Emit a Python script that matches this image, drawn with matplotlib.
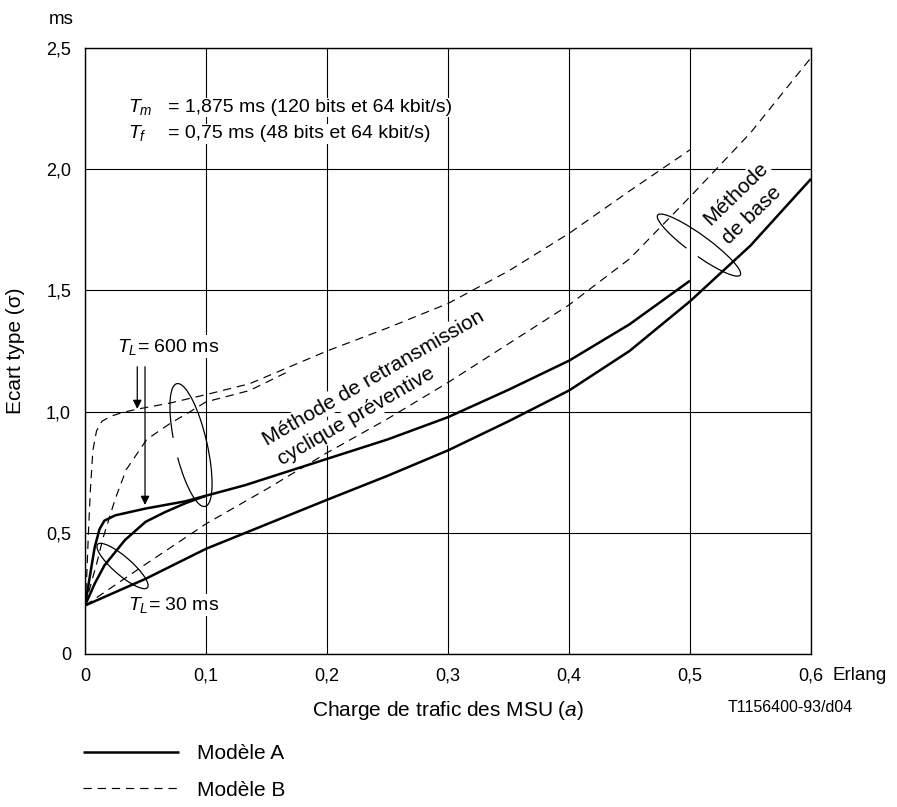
import matplotlib
matplotlib.use("Agg")
import matplotlib.pyplot as plt
from matplotlib.patches import Arc
from matplotlib.transforms import ScaledTranslation

plt.rcParams['font.family'] = ['Liberation Sans', 'DejaVu Sans']
plt.rcParams['mathtext.fontset'] = 'custom'
plt.rcParams['mathtext.rm'] = 'Liberation Sans'
plt.rcParams['mathtext.it'] = 'Liberation Sans:italic'

# ---------------- data ----------------
# Model A (solid), basic method
a_base_x = [0, 0.05, 0.1, 0.15, 0.2, 0.25, 0.3, 0.35, 0.4, 0.45, 0.5, 0.55, 0.6]
a_base_y = [0.2, 0.31, 0.434, 0.535, 0.636, 0.735, 0.84, 0.96, 1.087, 1.25, 1.455, 1.685, 1.96]
# Model A (solid), preventive cyclic retransmission, TL = 600 ms
a_r600_x = [0, 0.004, 0.008, 0.012, 0.016, 0.025, 0.05, 0.083, 0.1, 0.132, 0.2, 0.25,
            0.3, 0.35, 0.4, 0.45, 0.5]
a_r600_y = [0.2, 0.32, 0.44, 0.515, 0.55, 0.572, 0.60, 0.63, 0.653, 0.696, 0.805, 0.885,
            0.977, 1.09, 1.21, 1.36, 1.54]
# Model A (solid), preventive cyclic retransmission, TL = 30 ms
a_r30_x = [0, 0.008, 0.016, 0.033, 0.05, 0.066, 0.083, 0.1]
a_r30_y = [0.2, 0.29, 0.365, 0.47, 0.545, 0.585, 0.622, 0.653]

# Model B (dashed), basic method
b_base_x = [0, 0.05, 0.1, 0.15, 0.2, 0.25, 0.3, 0.35, 0.4, 0.45, 0.5, 0.55, 0.6]
b_base_y = [0.2, 0.37, 0.537, 0.68, 0.83, 0.97, 1.12, 1.28, 1.44, 1.63, 1.886, 2.15, 2.46]
# Model B (dashed), retransmission, TL = 600 ms
b_r600_x = [0, 0.0015, 0.003, 0.0045, 0.0065, 0.0095, 0.014, 0.021, 0.03, 0.043, 0.07,
            0.1, 0.136, 0.2, 0.25, 0.3, 0.35, 0.4, 0.45, 0.5]
b_r600_y = [0.2, 0.33, 0.52, 0.68, 0.84, 0.92, 0.96, 0.98, 0.995, 1.01, 1.035,
            1.07, 1.115, 1.25, 1.345, 1.446, 1.58, 1.735, 1.91, 2.08]
# Model B (dashed), retransmission, TL = 30 ms
b_r30_x = [0, 0.005, 0.01, 0.015, 0.025, 0.034, 0.051, 0.07, 0.087, 0.1, 0.136, 0.17]
b_r30_y = [0.2, 0.29, 0.38, 0.48, 0.64, 0.76, 0.885, 0.95, 1.0, 1.04, 1.087, 1.17]

x_ticks = [0, 0.1, 0.2, 0.3, 0.4, 0.5, 0.6]
x_tick_labels = ['0', '0,1', '0,2', '0,3', '0,4', '0,5', '0,6']
y_ticks = [0, 0.5, 1.0, 1.5, 2.0, 2.5]
y_tick_labels = ['0', '0,5', '1,0', '1,5', '2,0', '2,5']
legend_labels = ['Modèle A', 'Modèle B']

# ---------------- figure ----------------
fig = plt.figure(figsize=(8.97, 8.07), dpi=100)
ax = fig.add_axes([85/897, 1 - 654/807, 726/897, 606/807])
ax.set_xlim(0, 0.6)
ax.set_ylim(0, 2.5)
ax.set_xticks(x_ticks)
ax.set_xticklabels(x_tick_labels)
ax.set_yticks(y_ticks)
ax.set_yticklabels(y_tick_labels)
ax.tick_params(length=0, labelsize=13, colors='black')
ax.tick_params(axis='x', pad=10)
ax.tick_params(axis='y', pad=10)
ax.grid(True, color='black', lw=0.8, zorder=1)
ax.set_axisbelow(True)
for s in ax.spines.values():
    s.set_linewidth(1.0)
    s.set_zorder(6)

solid = dict(color='black', lw=1.8, zorder=4, solid_capstyle='butt',
             solid_joinstyle='round')
dashed = dict(color='black', lw=0.85, zorder=4, dashes=(7, 5))

lA, = ax.plot(a_base_x, a_base_y, **solid)
ax.plot(a_r600_x, a_r600_y, **solid)
ax.plot(a_r30_x, a_r30_y, **solid)
lB, = ax.plot(b_base_x, b_base_y, **dashed)
ax.plot(b_r600_x, b_r600_y, **dashed)
ax.plot(b_r30_x, b_r30_y, **dashed)

# ---------------- labels ----------------
ax.set_xlabel('Charge de trafic des MSU ($a$)', fontsize=15, labelpad=10)
ax.set_ylabel('Ecart type (σ)', fontsize=15)
ax.yaxis.set_label_coords(-0.083, 0.5)
ax.text(-0.05, 1.04, 'ms', transform=ax.transAxes, fontsize=13.5,
        ha='left', va='baseline')
ax.text(1.030, -0.0347, 'Erlang', transform=ax.transAxes, fontsize=13.5,
        ha='left', va='center')
ax.text(0.971, -0.0875, 'T1156400-93/d04', transform=ax.transAxes, fontsize=11.5,
        ha='center', va='center')

wb = dict(facecolor='white', edgecolor='none', pad=1.0)
tk = dict(fontsize=14, ha='left', va='baseline', zorder=3)
ax.text(0.0355, 2.236, '$T_m$', **tk)
ax.text(0.0686, 2.236, '= 1,875 ms (120 bits et 64 kbit/s)', bbox=wb, **tk)
ax.text(0.0355, 2.128, '$T_f$', **tk)
ax.text(0.0686, 2.128, '= 0,75 ms (48 bits et 64 kbit/s)', bbox=wb, **tk)

ax.text(0.0262, 1.247, '$T_L$= 600 ms', bbox=wb, **tk)
ax.text(0.0358, 0.1815, '$T_L$= 30 ms', bbox=wb, **tk)

rk = dict(fontsize=15, ha='left', va='baseline', rotation_mode='anchor', zorder=3,
          bbox=wb)
ax.text(0.150, 0.8595, 'Méthode de retransmission', rotation=30, **rk)
ax.text(0.1625, 0.777, 'cyclique préventive', rotation=30, **rk)
ax.text(0.517, 1.765, 'Méthode', rotation=44, **rk)
ax.text(0.5326, 1.689, 'de base', rotation=44, **rk)

# arrows for TL = 600 ms
ap = dict(arrowstyle='-|>', color='black', lw=0.9, mutation_scale=13,
          shrinkA=0, shrinkB=0)
ax.annotate('', xy=(0.0432, 1.011), xytext=(0.0432, 1.185), arrowprops=ap, zorder=5)
ax.annotate('', xy=(0.0496, 0.615), xytext=(0.0496, 1.185), arrowprops=ap, zorder=5)

# grouping loops (sizes in inches, centred on data points)
def loop(cx, cy, w, h, ang, t1=0, t2=360):
    tr = fig.dpi_scale_trans + ScaledTranslation(cx, cy, ax.transData)
    ax.add_patch(Arc((0, 0), w, h, angle=ang, theta1=t1, theta2=t2,
                     transform=tr, color='black', lw=0.9, zorder=5))

loop(0.0876, 0.862, 1.26, 0.32, 103, 120, 415)
loop(0.031, 0.363, 0.66, 0.18, 139)
loop(0.5074, 1.687, 1.02, 0.20, 144, 120, 410)

# legend
leg = ax.legend([lA, lB], legend_labels, loc='upper left', frameon=False,
                bbox_to_anchor=(83/897, 1 - 744/807), bbox_transform=fig.transFigure,
                fontsize=15, handlelength=4.6, handletextpad=0.85,
                labelspacing=0.85, borderpad=0, borderaxespad=0)

fig.savefig('out.png', dpi=100)
